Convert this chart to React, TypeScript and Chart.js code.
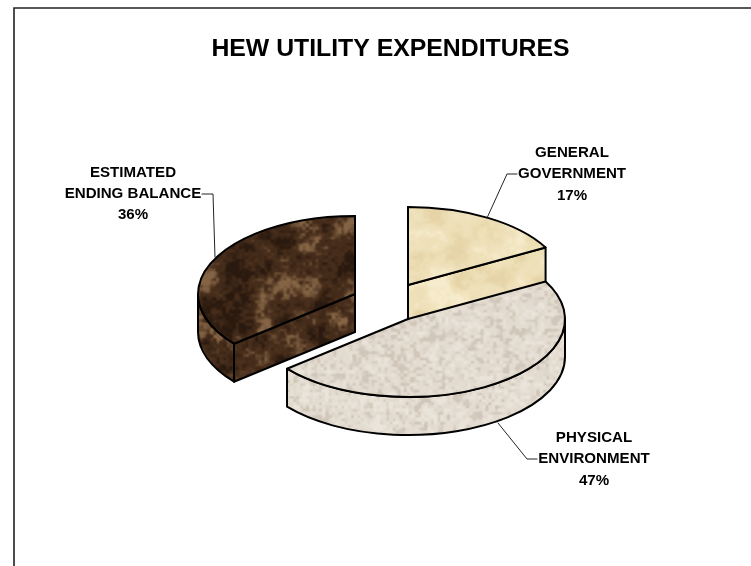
import React, { useEffect, useRef } from "react";
import { Chart, registerables } from "chart.js";

Chart.register(...registerables);

// ---- data ----
const TITLE = "HEW UTILITY EXPENDITURES";
const CATEGORIES = ["GENERAL\nGOVERNMENT", "PHYSICAL\nENVIRONMENT", "ESTIMATED\nENDING BALANCE"];
const SHARES = [17, 47, 36];

// ---- look and layout ----
const FONT = '"Liberation Sans", Arial, sans-serif';
const SQUASH = 78 / 157;
const DEPTH = 38;
const RADIUS = 157;
const SLICE_SHIFT = [
  { dx: 17.5, dy: -15 },
  { dx: 17.5, dy: 19 },
  { dx: -35.5, dy: -6 },
];
const DRAW_ORDER = [2, 0, 1];
const LABELS = [
  { x: 572, y: 153, leader: [[517, 174], [507, 174], [487, 218]] },
  { x: 594, y: 438, leader: [[537, 459], [527, 459], [498, 423]] },
  { x: 133, y: 172.5, leader: [[202, 194], [213, 194], [215, 257]] },
];
const LINE_STEP = 21.3;

type Palette = { base: number[]; light: number[]; dark: number[]; weights: number[] };
const PALETTES: Palette[] = [
  { base: [238, 224, 184], light: [246, 235, 204], dark: [230, 212, 168], weights: [0.6, 0.25, 0.15] },
  { base: [227, 219, 208], light: [234, 228, 219], dark: [208, 198, 185], weights: [0.15, 0.3, 0.55] },
  { base: [70, 45, 27], light: [132, 100, 68], dark: [42, 25, 14], weights: [0.45, 0.3, 0.25] },
];

function hash(x: number, y: number, seed: number) {
  const s = Math.sin(x * 127.1 + y * 311.7 + seed * 74.7) * 43758.5453;
  return s - Math.floor(s);
}
function vnoise(x: number, y: number, seed: number, period: number) {
  const xi = Math.floor(x), yi = Math.floor(y);
  const fx = x - xi, fy = y - yi;
  const u = fx * fx * (3 - 2 * fx), v = fy * fy * (3 - 2 * fy);
  const x0 = xi % period, x1 = (xi + 1) % period, y0 = yi % period, y1 = (yi + 1) % period;
  const a = hash(x0, y0, seed), b = hash(x1, y0, seed);
  const c = hash(x0, y1, seed), d = hash(x1, y1, seed);
  return a + (b - a) * u + (c - a) * v + (a - b - c + d) * u * v;
}
const smooth = (lo: number, hi: number, v: number) => {
  const t = Math.max(0, Math.min(1, (v - lo) / (hi - lo)));
  return t * t * (3 - 2 * t);
};
function makeTexture(ctx: CanvasRenderingContext2D, p: Palette, seed: number, stretch: number) {
  const w = 320, h = Math.round(320 * stretch);
  const c = document.createElement("canvas");
  c.width = w;
  c.height = h;
  const g = c.getContext("2d")!;
  const img = g.createImageData(w, h);
  const [w0, w1, w2] = p.weights;
  for (let y = 0; y < h; y++) {
    for (let x = 0; x < w; x++) {
      const yy = (y * 320) / h;
      const n =
        w0 * vnoise(x / 20, yy / 20, seed, 16) +
        w1 * vnoise(x / 8, yy / 8, seed + 1, 40) +
        w2 * vnoise(x / 3.2, yy / 3.2, seed + 2, 100);
      const toDark = 1 - smooth(0.22, 0.5, n);
      const toLight = smooth(0.5, 0.8, n);
      const i = (y * w + x) * 4;
      for (let ch = 0; ch < 3; ch++) {
        img.data[i + ch] =
          p.base[ch] + (p.dark[ch] - p.base[ch]) * toDark + (p.light[ch] - p.base[ch]) * toLight;
      }
      img.data[i + 3] = 255;
    }
  }
  g.putImageData(img, 0, 0);
  return ctx.createPattern(c, "repeat")!;
}

const pie3d = (wallFills: CanvasPattern[]) => ({
  id: "pie3d",
  beforeDraw(chart: any) {
    const { ctx } = chart;
    ctx.save();
    ctx.strokeStyle = "#222";
    ctx.lineWidth = 1.6;
    ctx.beginPath();
    ctx.moveTo(14, 580);
    ctx.lineTo(14, 8);
    ctx.lineTo(770, 8);
    ctx.stroke();
    ctx.restore();
  },
  beforeDatasetDraw(chart: any) {
    const { ctx } = chart;
    const arcs = chart.getDatasetMeta(0).data;
    ctx.lineWidth = 2;
    ctx.lineJoin = "round";
    ctx.lineCap = "round";
    ctx.strokeStyle = "#000";
    for (const i of DRAW_ORDER) {
      const el = arcs[i];
      const { startAngle: a0, endAngle: a1, outerRadius: r } = el.getProps(["startAngle", "endAngle", "outerRadius"]);
      const cx = el.x + SLICE_SHIFT[i].dx;
      const cy = el.y + SLICE_SHIFT[i].dy;
      const b = r * SQUASH;
      const rim = (t: number, d = 0): [number, number] => [cx + r * Math.cos(t), cy + b * Math.sin(t) + d];
      const paint = (path: () => void, fill: any) => {
        ctx.beginPath();
        path();
        ctx.closePath();
        ctx.fillStyle = fill;
        ctx.fill();
        ctx.stroke();
      };
      // radial cut faces that look toward the viewer
      for (const [t, side] of [[a0, -1], [a1, 1]] as [number, number][]) {
        if (Math.sin(t + (side * Math.PI) / 2) > -1e-3) {
          const [ex, ey] = rim(t);
          paint(() => {
            ctx.moveTo(cx, cy);
            ctx.lineTo(ex, ey);
            ctx.lineTo(ex, ey + DEPTH);
            ctx.lineTo(cx, cy + DEPTH);
          }, wallFills[i]);
        }
      }
      // outer rim wall, lower half of the ellipse only
      for (const k of [0, 2]) {
        const from = Math.max(a0, k * Math.PI);
        const to = Math.min(a1, (k + 1) * Math.PI);
        if (to > from) {
          paint(() => {
            ctx.ellipse(cx, cy, r, b, 0, from, to, false);
            ctx.ellipse(cx, cy + DEPTH, r, b, 0, to, from, true);
          }, wallFills[i]);
        }
      }
      // top face: the library's own arc, squashed and shifted
      ctx.save();
      ctx.translate(cx, cy);
      ctx.scale(1, SQUASH);
      ctx.translate(-el.x, -el.y);
      el.draw(ctx);
      ctx.restore();
      ctx.beginPath();
      ctx.moveTo(cx, cy);
      ctx.ellipse(cx, cy, r, b, 0, a0, a1, false);
      ctx.closePath();
      ctx.stroke();
    }
    // labels and leaders
    ctx.save();
    ctx.textAlign = "center";
    ctx.textBaseline = "middle";
    ctx.fillStyle = "#000";
    ctx.font = `bold 15.1px ${FONT}`;
    ctx.strokeStyle = "#222";
    ctx.lineWidth = 1;
    const total = SHARES.reduce((s, v) => s + v, 0);
    CATEGORIES.forEach((name, i) => {
      const lines = [...name.split("\n"), `${Math.round((SHARES[i] / total) * 100)}%`];
      lines.forEach((t, n) => ctx.fillText(t, LABELS[i].x, LABELS[i].y + n * LINE_STEP));
      ctx.beginPath();
      LABELS[i].leader.forEach(([x, y], n) => (n ? ctx.lineTo(x, y) : ctx.moveTo(x, y)));
      ctx.stroke();
    });
    ctx.restore();
    return false;
  },
});

export default function App() {
  const ref = useRef<HTMLCanvasElement>(null);
  useEffect(() => {
    document.documentElement.style.overflow = "hidden";
    const canvas = ref.current!;
    const ctx = canvas.getContext("2d")!;
    const tops = PALETTES.map((p, i) => makeTexture(ctx, p, i * 5 + 1, 1 / SQUASH));
    const walls = PALETTES.map((p, i) => makeTexture(ctx, p, i * 5 + 1, 1));
    const chart = new Chart(canvas, {
      type: "pie",
      data: {
        labels: CATEGORIES.map((c) => c.replace("\n", " ")),
        datasets: [{ data: SHARES, backgroundColor: tops, borderWidth: 0 }],
      },
      options: {
        animation: false,
        responsive: false,
        radius: RADIUS,
        rotation: 0,
        layout: { padding: { left: 30, top: 0, right: 0, bottom: 34.76 } },
        plugins: {
          legend: { display: false },
          tooltip: { enabled: false },
          title: {
            display: true,
            text: TITLE,
            color: "#000",
            fullSize: false,
            padding: { top: 34.5, bottom: 4.5 },
            font: { family: FONT, size: 24.8, weight: "bold", lineHeight: 1.2 },
          },
        },
      } as any,
      plugins: [pie3d(walls)],
    });
    return () => chart.destroy();
  }, []);
  return (
    <div style={{ position: "absolute", left: 0, top: 0, width: 751, height: 566, overflow: "hidden" }}>
      <canvas ref={ref} width={751} height={566} style={{ display: "block" }} />
    </div>
  );
}
